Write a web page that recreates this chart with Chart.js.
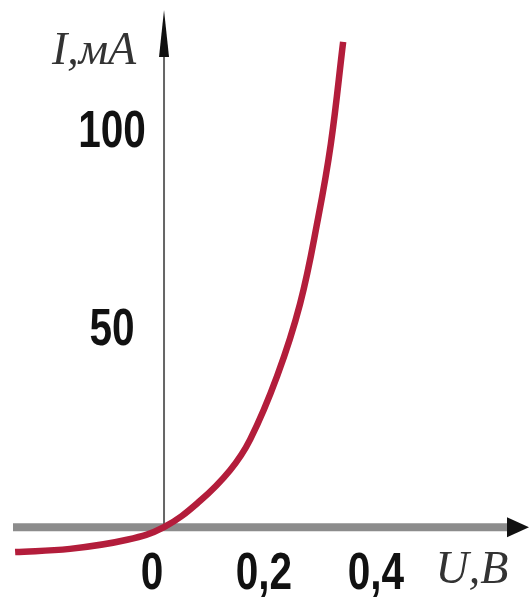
<!DOCTYPE html>
<html>
<head>
<meta charset="utf-8">
<script src="https://cdn.jsdelivr.net/npm/chart.js@4.4.1/dist/chart.umd.min.js"></script>
<style>
  html, body { margin: 0; padding: 0; background: #fff; }
  canvas { display: block; }
</style>
</head>
<body>
<canvas id="vac" width="529" height="603"></canvas>
<script>
// ВАХ диода: напряжение U (В) и ток I (мА)
const voltage = [-0.266, -0.168, -0.066, 0, 0.064, 0.118, 0.154, 0.202, 0.243, 0.275, 0.298, 0.32];
const current = [-6.3, -5.5, -3.2, 0, 6.6, 14.4, 22.2, 38.2, 56.5, 78, 97, 122.8];

const xTicks = [0, 0.2, 0.4];
const xTickLabels = ['0', '0,2', '0,4'];
const yTicks = [50, 100];
const yTickLabels = ['50', '100'];

const tickFont = 'bold 52px "Liberation Sans", Arial, sans-serif';
const titleFont = 'italic 46px "Liberation Serif", "DejaVu Serif", serif';

// узкий жирный текст (как в исходнике) - сжимаем по горизонтали
function narrowText(ctx, text, cx, cy) {
    ctx.save();
    ctx.translate(cx, cy);
    ctx.scale(0.78, 1);
    ctx.fillText(text, 0, 0);
    ctx.restore();
}

// Оси со стрелками, подписи делений и осей
const axesPlugin = {
    id: 'axes',
    beforeDatasetsDraw(chart) {
        const { ctx, scales: { x, y } } = chart;
        const x0 = x.getPixelForValue(0);
        const y0 = y.getPixelForValue(0);
        ctx.save();
        // горизонтальная ось
        ctx.strokeStyle = '#8c8c8c';
        ctx.lineWidth = 8;
        ctx.beginPath();
        ctx.moveTo(13, y0);
        ctx.lineTo(510, y0);
        ctx.stroke();
        ctx.fillStyle = '#111';
        ctx.beginPath();
        ctx.moveTo(529, y0);
        ctx.lineTo(507, y0 - 10);
        ctx.lineTo(507, y0 + 10);
        ctx.closePath();
        ctx.fill();
        // вертикальная ось
        ctx.strokeStyle = '#666';
        ctx.lineWidth = 2;
        ctx.beginPath();
        ctx.moveTo(x0, y0);
        ctx.lineTo(x0, 40);
        ctx.stroke();
        ctx.fillStyle = '#111';
        ctx.beginPath();
        ctx.moveTo(x0, 10);
        ctx.lineTo(x0 - 5, 57);
        ctx.lineTo(x0 + 5, 57);
        ctx.closePath();
        ctx.fill();
        ctx.restore();
    },
    afterDraw(chart) {
        const { ctx, scales: { x, y } } = chart;
        const x0 = x.getPixelForValue(0);
        const y0 = y.getPixelForValue(0);
        ctx.save();
        ctx.font = tickFont;
        ctx.fillStyle = '#111';
        ctx.textAlign = 'center';
        ctx.textBaseline = 'middle';
        xTicks.forEach((v, i) => narrowText(ctx, xTickLabels[i], x.getPixelForValue(v) - 12, y0 + 48));
        yTicks.forEach((v, i) => narrowText(ctx, yTickLabels[i], x0 - 52, y.getPixelForValue(v) + 1));

        ctx.font = titleFont;
        ctx.fillStyle = '#333';
        ctx.fillText('I,мА', x0 - 70, 52);
        ctx.fillText('U,В', 472, y0 + 44);
        ctx.restore();
    }
};

new Chart(document.getElementById('vac'), {
    type: 'line',
    data: {
        datasets: [{
            data: voltage.map((u, i) => ({ x: u, y: current[i] })),
            borderColor: '#b31d3b',
            borderWidth: 6.5,
            pointRadius: 0,
            tension: 0.4,
            fill: false
        }]
    },
    options: {
        responsive: false,
        animation: false,
        layout: { padding: 0 },
        plugins: { legend: { display: false }, tooltip: { enabled: false } },
        scales: {
            x: {
                type: 'linear',
                position: { y: 0 },
                min: -0.293,
                max: 0.652,
                grid: { display: false, drawTicks: false },
                border: { display: false },
                ticks: { display: false }
            },
            y: {
                type: 'linear',
                position: { x: 0 },
                min: -19.2,
                max: 133.4,
                grid: { display: false, drawTicks: false },
                border: { display: false },
                ticks: { display: false }
            }
        }
    },
    plugins: [axesPlugin]
});
</script>
</body>
</html>
